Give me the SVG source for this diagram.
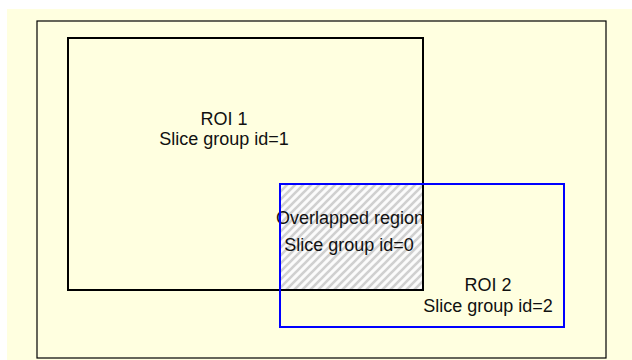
<svg xmlns="http://www.w3.org/2000/svg" width="632" height="360" viewBox="0 0 632 360">
  <style>
    .frame { fill: none; stroke: #000; stroke-width: 1.2; }
    .roi1 { fill: none; stroke: #000; stroke-width: 2; }
    .roi2 { fill: none; stroke: #0000ff; stroke-width: 2; }
    .label { font-family: "Liberation Sans", Arial, sans-serif; font-size: 18px; fill: #111; text-anchor: middle; }
  </style>
  <defs>
    <pattern id="hatch" patternUnits="userSpaceOnUse" width="8" height="8">
      <rect width="8" height="8" fill="#fbfbfb"/>
      <path d="M-2,2 l4,-4 M0,8 l8,-8 M6,10 l4,-4" stroke="#d0d0d0" stroke-width="2.6"/>
    </pattern>
  </defs>

  <!-- page background -->
  <rect x="0" y="0" width="632" height="360" fill="#ffffff"/>
  <rect x="7" y="9" width="625" height="351" fill="#ffffe0"/>

  <!-- picture frame -->
  <g id="frame">
    <rect class="frame" x="37" y="21" width="569" height="337"/>
  </g>

  <!-- overlap of the two regions -->
  <g id="overlap">
    <rect x="280" y="184" width="143" height="106" fill="url(#hatch)"/>
    <text class="label" x="350" y="224">Overlapped region</text>
    <text class="label" x="349" y="251">Slice group id=0</text>
  </g>

  <!-- ROI 1 -->
  <g id="roi1">
    <rect class="roi1" x="68" y="38" width="355" height="252"/>
    <text class="label" x="224" y="125">ROI 1</text>
    <text class="label" x="224" y="145">Slice group id=1</text>
  </g>

  <!-- ROI 2 -->
  <g id="roi2">
    <rect class="roi2" x="280" y="184" width="284" height="143"/>
    <text class="label" x="488" y="291">ROI 2</text>
    <text class="label" x="488" y="312">Slice group id=2</text>
  </g>
</svg>
